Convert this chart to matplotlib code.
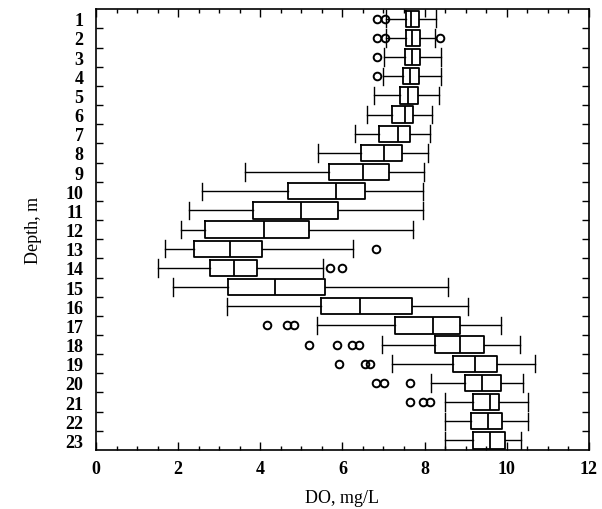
import matplotlib
matplotlib.use('Agg')
import matplotlib.pyplot as plt
from matplotlib.ticker import MultipleLocator

# DO box-plot statistics per depth
depths = list(range(1, 24))
whislo = [7.07, 7.07, 7.01, 7.00, 6.78, 6.59, 6.30, 5.41, 3.64, 2.59, 2.27, 2.06,
          1.67, 1.52, 1.88, 3.18, 5.38, 6.97, 7.20, 8.17, 8.49, 8.49, 8.49]
q1 = [7.54, 7.54, 7.52, 7.48, 7.40, 7.21, 6.90, 6.46, 5.68, 4.67, 3.82, 2.66,
      2.38, 2.77, 3.22, 5.49, 7.28, 8.25, 8.70, 8.98, 9.17, 9.13, 9.17]
med = [7.68, 7.70, 7.70, 7.65, 7.60, 7.52, 7.35, 7.01, 6.50, 5.85, 5.00, 4.08,
       3.26, 3.36, 4.37, 6.44, 8.21, 8.86, 9.24, 9.39, 9.59, 9.54, 9.59]
q3 = [7.86, 7.89, 7.89, 7.87, 7.83, 7.73, 7.65, 7.46, 7.13, 6.55, 5.89, 5.18,
      4.04, 3.91, 5.57, 7.70, 8.87, 9.46, 9.76, 9.86, 9.82, 9.88, 9.96]
whishi = [8.27, 8.25, 8.40, 8.40, 8.36, 8.19, 8.13, 8.09, 7.99, 7.96, 7.96, 7.73,
          6.26, 5.53, 8.56, 9.05, 9.86, 10.33, 10.68, 10.39, 10.52, 10.52, 10.35]
fliers = [[6.84, 7.04], [6.85, 7.04, 8.37], [6.84], [6.84], [], [], [], [], [], [], [], [],
          [6.83], [5.71, 5.99], [], [], [4.17, 4.66, 4.83], [5.19, 5.87, 6.24, 6.40],
          [5.91, 6.56, 6.68], [6.81, 7.01, 7.64], [7.64, 7.96, 8.13], [], []]

plt.rcParams['font.family'] = ['Liberation Serif', 'DejaVu Serif']

stats = []
for i in range(len(depths)):
    stats.append({'whislo': whislo[i], 'q1': q1[i], 'med': med[i], 'q3': q3[i],
                  'whishi': whishi[i], 'fliers': fliers[i], 'label': str(depths[i])})

fig = plt.figure(figsize=(6.02, 5.10), dpi=100)
ax = fig.add_axes([0.1595, 0.1157, 0.8185, 0.8643])

ax.bxp(stats, positions=depths, vert=False, widths=0.85, capwidths=0.9,
       boxprops=dict(color='black', linewidth=1.3),
       medianprops=dict(color='black', linewidth=1.3),
       whiskerprops=dict(color='black', linewidth=1.0),
       capprops=dict(color='black', linewidth=1.0),
       flierprops=dict(marker='o', markerfacecolor='none', markeredgecolor='black',
                       markersize=5.5, markeredgewidth=1.4))

ax.set_xlim(0, 12)
ax.set_ylim(23.5, 0.5)
ax.xaxis.set_major_locator(MultipleLocator(2))
ax.xaxis.set_minor_locator(MultipleLocator(0.5))
ax.set_yticks(depths)
ax.set_yticklabels([str(d) for d in depths])
ax.set_yticks([d + 0.5 for d in depths[:-1]], minor=True)

ax.tick_params(axis='x', which='major', direction='in', length=6, top=True, width=1)
ax.tick_params(axis='x', which='minor', direction='in', length=3, top=True, width=1)
ax.tick_params(axis='y', which='major', length=0, pad=9)
ax.tick_params(axis='y', which='minor', direction='in', length=5, right=True, width=1)
ax.tick_params(axis='x', pad=7)
for lab in ax.get_xticklabels() + ax.get_yticklabels():
    lab.set_fontsize(13)
    lab.set_fontweight('bold')
for s in ax.spines.values():
    s.set_linewidth(1.2)

ax.set_xlabel('DO, mg/L', fontsize=13, labelpad=9)
ax.set_ylabel('Depth, m', fontsize=13, labelpad=17)

plt.savefig('out.png', dpi=100)
plt.close()
